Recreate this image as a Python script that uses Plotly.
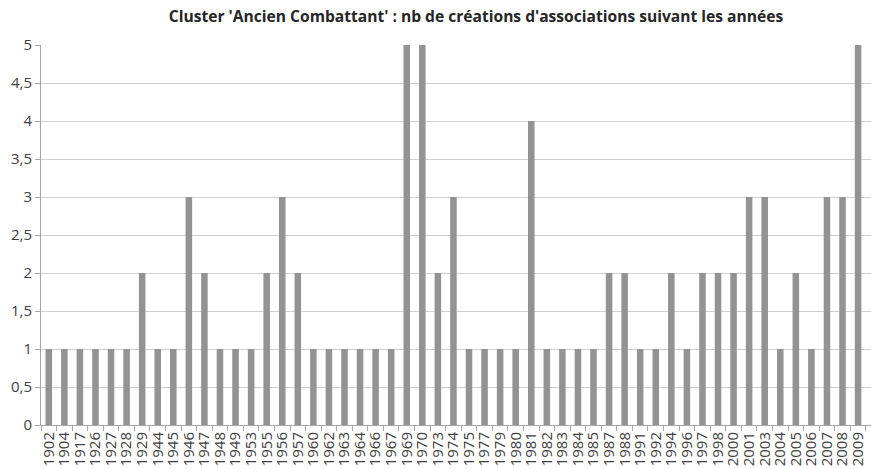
import plotly.graph_objects as go

years = ["1902", "1904", "1917", "1926", "1927", "1928", "1929", "1944", "1945", "1946",
         "1947", "1948", "1949", "1953", "1955", "1956", "1957", "1960", "1962", "1963",
         "1964", "1966", "1967", "1969", "1970", "1973", "1974", "1975", "1977", "1979",
         "1980", "1981", "1982", "1983", "1984", "1985", "1987", "1988", "1991", "1992",
         "1994", "1996", "1997", "1998", "2000", "2001", "2003", "2004", "2005", "2006",
         "2007", "2008", "2009"]
counts = [1, 1, 1, 1, 1, 1, 2, 1, 1, 3,
          2, 1, 1, 1, 2, 3, 2, 1, 1, 1,
          1, 1, 1, 5, 5, 2, 3, 1, 1, 1,
          1, 4, 1, 1, 1, 1, 2, 2, 1, 1,
          2, 1, 2, 2, 2, 3, 3, 1, 2, 1,
          3, 3, 5]
y_ticks = [0, 0.5, 1, 1.5, 2, 2.5, 3, 3.5, 4, 4.5, 5]
title_text = "Cluster 'Ancien Combattant' : nb de créations d'associations suivant les années"

fig = go.Figure(go.Bar(x=years, y=counts, marker=dict(color="#939393", line=dict(width=0))))

fig.update_layout(
    width=871, height=469,
    margin=dict(l=41, r=0, t=45, b=44),
    paper_bgcolor="white", plot_bgcolor="white",
    separators=", ",
    bargap=0.58,
    showlegend=False,
    font=dict(family="Open Sans", color="#404040"),
    title=dict(text=title_text, x=476 / 871, xanchor="center", xref="container",
               y=1 - 17 / 469, yanchor="middle", yref="container",
               font=dict(family="Open Sans", size=15.6, color="#262626", weight="bold")),
)
fig.update_xaxes(
    type="category", range=[-0.5, 52.83],
    tickmode="array", tickvals=years, ticktext=years,
    tickangle=-90, tickfont=dict(size=15, color="#404040"),
    tickson="boundaries", ticks="outside", ticklen=5, tickcolor="#a6a6a6",
    showline=True, linecolor="#a6a6a6", linewidth=1,
    showgrid=False, automargin=False,
)
fig.update_yaxes(
    range=[0, 5], tickvals=y_ticks,
    tickfont=dict(size=15, color="#404040"),
    ticks="outside", ticklen=5, tickcolor="#a6a6a6",
    showline=True, linecolor="#a6a6a6", linewidth=1,
    showgrid=True, gridcolor="#d0d0d0", gridwidth=1,
    zeroline=False, automargin=False,
)

fig.write_html(
    "out.html",
    config={"displayModeBar": False},
    post_script="document.body.style.margin='0';document.body.style.overflow='hidden';",
)
